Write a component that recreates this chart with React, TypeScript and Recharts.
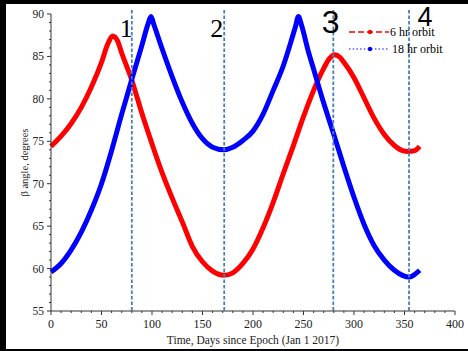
import { LineChart, Line, XAxis, YAxis, ReferenceLine, Legend, Label } from 'recharts'

// beta angle over one year
const redDays = [0, 10, 20, 30, 40, 50, 56, 61, 66, 70, 80, 90, 100, 110, 120, 130, 140, 150, 160, 171, 180, 190, 200, 210, 220, 230, 240, 250, 260, 270, 276, 281, 286, 290, 300, 310, 320, 330, 340, 348, 354, 360, 365]
const redBeta = [74.4, 75.6, 77.1, 79.0, 81.4, 84.3, 86.4, 87.4, 86.8, 85.4, 82.2, 78.3, 74.7, 71.3, 68.3, 65.5, 62.6, 60.8, 59.7, 59.2, 59.5, 60.6, 62.3, 64.8, 67.8, 71.2, 74.5, 77.9, 81.0, 83.6, 84.8, 85.2, 84.9, 84.3, 82.5, 80.1, 77.7, 75.8, 74.5, 73.9, 73.8, 73.9, 74.4]

const blueDays = [0, 10, 20, 30, 40, 50, 60, 70, 80, 90, 96, 99, 102, 110, 120, 130, 140, 150, 160, 171, 180, 190, 200, 210, 220, 230, 238, 242, 245, 248, 255, 260, 270, 280, 290, 300, 310, 320, 330, 340, 348, 355, 360, 365]
const blueBeta = [59.6, 60.6, 62.2, 64.3, 66.9, 70.0, 73.9, 78.2, 82.3, 86.3, 88.8, 89.7, 88.7, 85.9, 82.6, 79.6, 77.1, 75.3, 74.3, 74.0, 74.3, 75.1, 76.2, 78.2, 81.0, 83.9, 86.9, 88.5, 89.7, 88.7, 85.5, 83.5, 79.5, 75.8, 72.0, 68.4, 65.2, 62.7, 61.0, 59.8, 59.2, 59.0, 59.3, 59.8]

const seriesNames = ['6 hr orbit', '18 hr orbit']

const markerDays = [80, 171.5, 279.5, 354.5]
const markerLabels = ['1', '2', '3', '4']

const xTicks = Array.from({ length: 41 }, (_, i) => i * 10)
const yTicks = Array.from({ length: 36 }, (_, i) => 55 + i)

const SERIF = '"Liberation Serif", "Times New Roman", serif'
const SANS = '"Liberation Sans", Arial, sans-serif'
const RED = '#ff0000'
const BLUE = '#0000ff'
const GUIDE = '#4a7ebb'

const toPoints = (days: number[], vals: number[]) => days.map((d, i) => ({ day: d, beta: vals[i] }))
const redData = toPoints(redDays, redBeta)
const blueData = toPoints(blueDays, blueBeta)

// per-marker text placement (relative to the guide line top)
const markerText = [
  { dx: -12, dy: 23, size: 26, font: SERIF },
  { dx: -14, dy: 23, size: 26, font: SERIF },
  { dx: -11.5, dy: 19, size: 32, font: SANS },
  { dx: 8.5, dy: 12, size: 27, font: SANS },
]

function XTick({ x, y, payload }: any) {
  const major = payload.value % 50 === 0
  return (
    <g>
      <line x1={x} y1={y} x2={x} y2={y + (major ? 4 : 2)} stroke="#333" />
      {major && (
        <text x={x} y={y + 16.5} textAnchor="middle" fontFamily={SERIF} fontSize={12} fill="#222">
          {payload.value}
        </text>
      )}
    </g>
  )
}

function YTick({ x, y, payload }: any) {
  const major = payload.value % 5 === 0
  return (
    <g>
      <line x1={x - (major ? 4 : 2)} y1={y} x2={x} y2={y} stroke="#333" />
      {major && (
        <text x={x - 7} y={y + 4} textAnchor="end" fontFamily={SERIF} fontSize={11.5} fill="#222">
          {payload.value}
        </text>
      )}
    </g>
  )
}

function GuideLine(idx: number) {
  return (p: any) => {
    const top = Math.min(p.y1, p.y2)
    const bottom = Math.max(p.y1, p.y2)
    const t = markerText[idx]
    return (
      <g>
        <line x1={p.x1} y1={top - 4} x2={p.x1} y2={bottom} stroke={GUIDE} strokeWidth={1.8} strokeDasharray="3.5 2" />
        <text x={p.x1 + t.dx} y={top + t.dy} fontFamily={t.font} fontSize={t.size} fill="#000">
          {markerLabels[idx]}
        </text>
      </g>
    )
  }
}

function OrbitLegend() {
  const rows = [
    { name: seriesNames[0], color: RED, dash: '6 3', width: 1.3 },
    { name: seriesNames[1], color: BLUE, dash: '1.5 2.2', width: 1.2 },
  ]
  return (
    <div style={{ fontFamily: SERIF, fontSize: 12, color: '#000', lineHeight: '17px' }}>
      {rows.map((r) => (
        <div key={r.name} style={{ display: 'flex', alignItems: 'center', height: 17, whiteSpace: 'nowrap' }}>
          <svg width={41} height={10} style={{ display: 'block' }}>
            <line x1={0} y1={5} x2={40} y2={5} stroke={r.color} strokeWidth={r.width} strokeDasharray={r.dash} />
            <circle cx={21} cy={5} r={2.2} fill={r.color} />
          </svg>
          <span style={{ marginLeft: r.name === seriesNames[1] ? 2 : 0 }}>{r.name}</span>
        </div>
      ))}
    </div>
  )
}

export default function App() {
  return (
    <div style={{ position: 'absolute', left: 0, top: 0, width: 468, height: 351, background: '#000' }}>
      <div style={{ position: 'absolute', left: 6, top: 4, width: 462, height: 345, background: '#fff' }} />
      <div style={{ position: 'absolute', left: 0, top: 0 }}>
        <LineChart width={468} height={351} margin={{ top: 14, right: 13, left: 0, bottom: 0 }}>
          <XAxis
            type="number"
            dataKey="day"
            domain={[0, 400]}
            ticks={xTicks}
            interval={0}
            tickSize={0}
            tickMargin={0}
            tickLine={false}
            tick={<XTick />}
            height={40}
            stroke="#333"
            allowDuplicatedCategory={false}
          >
            <Label
              content={({ viewBox }: any) => (
                <text x={viewBox.x + viewBox.width / 2} y={viewBox.y + 33} textAnchor="middle" fontFamily={SERIF} fontSize={11.5} fill="#222">
                  Time, Days since Epoch (Jan 1 2017)
                </text>
              )}
            />
          </XAxis>
          <YAxis
            type="number"
            domain={[55, 90]}
            ticks={yTicks}
            interval={0}
            tickSize={0}
            tickMargin={0}
            tickLine={false}
            tick={<YTick />}
            width={51}
            stroke="#333"
          >
            <Label
              content={({ viewBox }: any) => {
                const cx = viewBox.x + 24
                const cy = viewBox.y + viewBox.height / 2
                return (
                  <text x={cx} y={cy} textAnchor="middle" dominantBaseline="central" transform={`rotate(-90 ${cx} ${cy})`} fontFamily={SERIF} fontSize={10.5} fill="#222">
                    β angle, degrees
                  </text>
                )
              }}
            />
          </YAxis>
          <Line
            data={redData}
            dataKey="beta"
            name={seriesNames[0]}
            type="monotone"
            stroke={RED}
            strokeWidth={5}
            dot={false}
            activeDot={false}
            isAnimationActive={false}
          />
          <Line
            data={blueData}
            dataKey="beta"
            name={seriesNames[1]}
            type="monotone"
            stroke={BLUE}
            strokeWidth={5}
            dot={false}
            activeDot={false}
            isAnimationActive={false}
          />
          {markerDays.map((d, i) => (
            <ReferenceLine key={d} x={d} stroke={GUIDE} shape={GuideLine(i)} />
          ))}
          <Legend
            layout="vertical"
            align="center"
            verticalAlign="middle"
            content={() => <OrbitLegend />}
            wrapperStyle={{ left: 349, top: 23.5, width: 110 }}
          />
        </LineChart>
      </div>
    </div>
  )
}
